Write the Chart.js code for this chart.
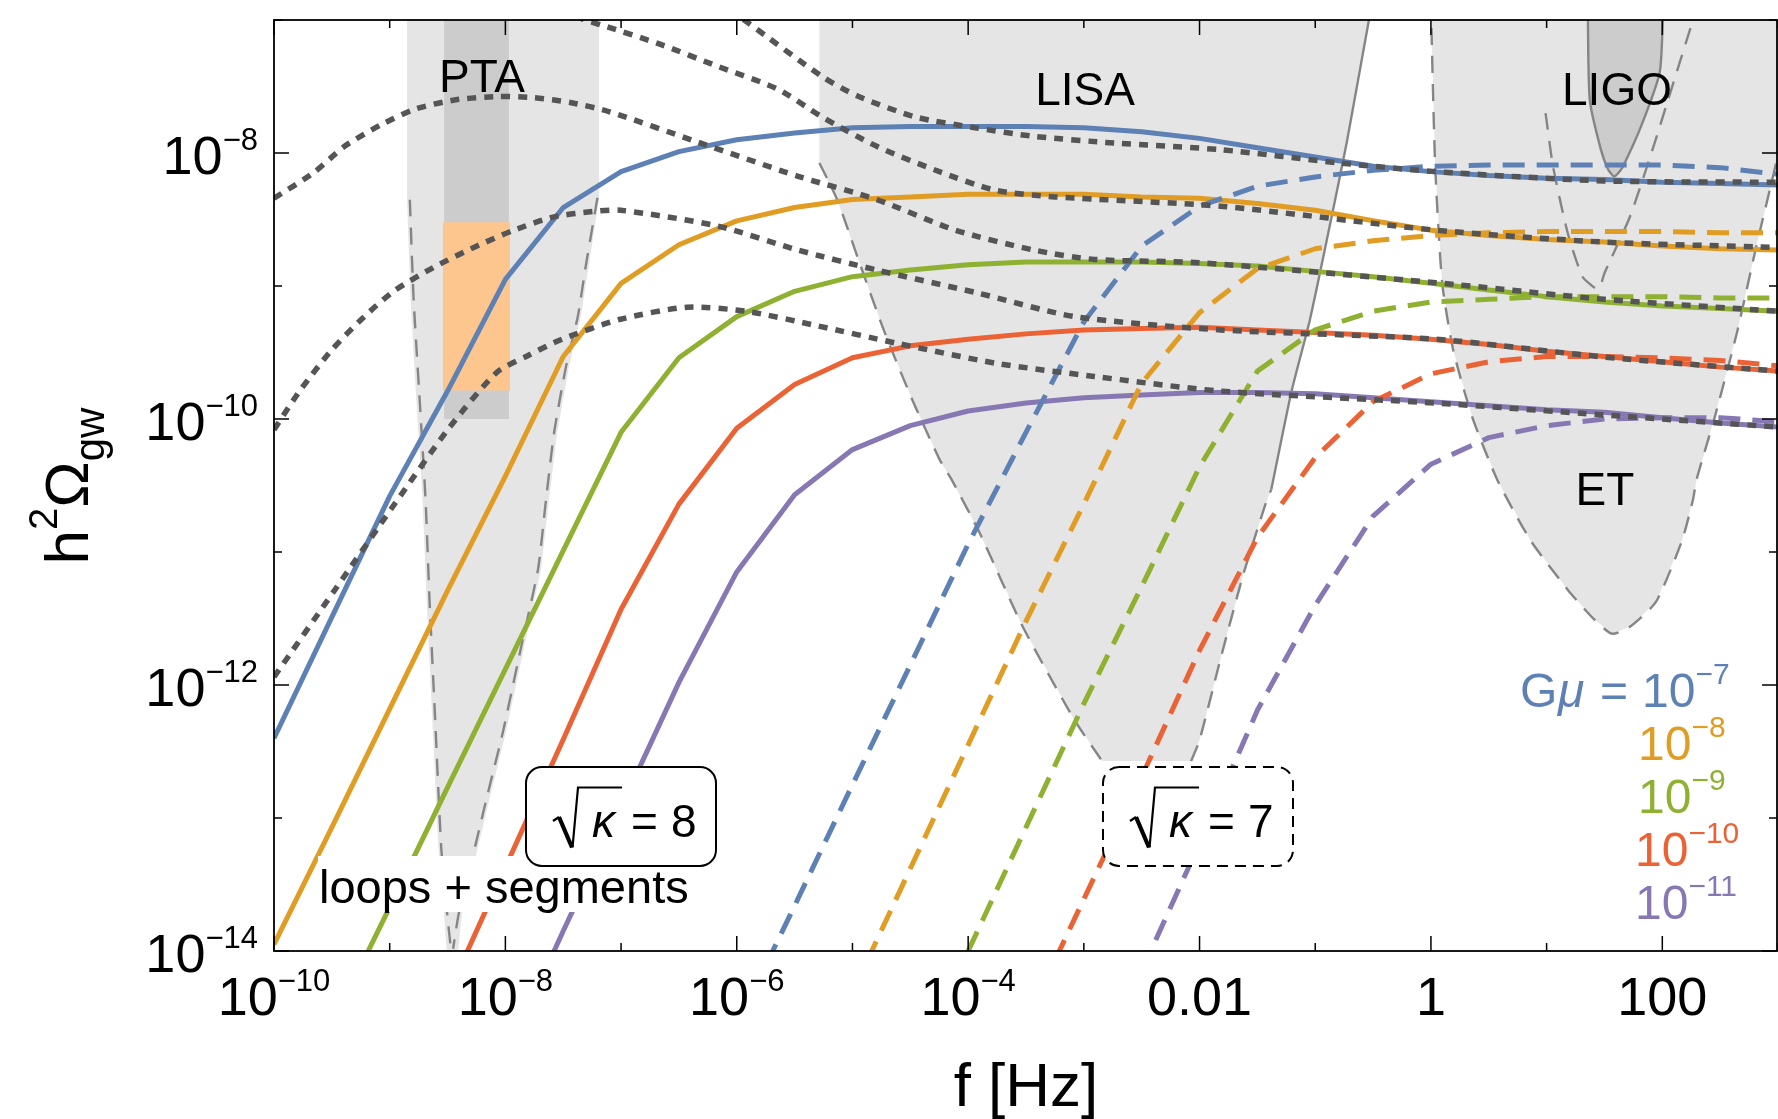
<!DOCTYPE html>
<html>
<head>
<meta charset="utf-8">
<script src="https://cdn.jsdelivr.net/npm/chart.js@4.4.1/dist/chart.umd.min.js"></script>
<style>
html,body{margin:0;padding:0;background:#fff;overflow:hidden}
canvas{display:block}
</style>
</head>
<body>
<canvas id="c" width="1778" height="1119"></canvas>
<script>
// ---------------- DATA (log10 f [Hz], log10 h^2 Omega_gw) ----------------
const fGrid = [-10,-9.5,-9,-8.5,-8,-7.5,-7,-6.5,-6,-5.5,-5,-4.5,-4,-3.5,-3,-2.5,-2,-1.5,-1,-0.5,0,0.5,1,1.5,2,2.5,3];

// sqrt(kappa) = 8, loops + segments (solid); arrays end at log f = 3
const blueSolid   = [-12.40,-11.49,-10.58,-9.79,-8.95,-8.41,-8.14,-7.99,-7.90,-7.85,-7.81,-7.80,-7.80,-7.80,-7.81,-7.84,-7.89,-7.96,-8.03,-8.10,-8.14,-8.17,-8.19,-8.20,-8.22,-8.23,-8.24];
const orangeSolid = [-13.95,-13.07,-12.18,-11.29,-10.43,-9.53,-8.98,-8.69,-8.51,-8.41,-8.35,-8.33,-8.31,-8.31,-8.31,-8.33,-8.34,-8.38,-8.43,-8.51,-8.58,-8.62,-8.65,-8.67,-8.70,-8.72,-8.73];
const greenSolid  = [-14.56,-13.67,-12.77,-11.88,-10.99,-10.10,-9.54,-9.23,-9.04,-8.93,-8.88,-8.84,-8.82,-8.82,-8.82,-8.83,-8.85,-8.89,-8.93,-8.98,-9.03,-9.08,-9.12,-9.15,-9.17,-9.19];
const redSolid    = [-14.33,-13.37,-12.41,-11.43,-10.64,-10.07,-9.74,-9.54,-9.45,-9.40,-9.36,-9.33,-9.32,-9.31,-9.33,-9.35,-9.37,-9.40,-9.44,-9.49,-9.53,-9.57,-9.61,-9.64];
const purpleSolid = [-14.80,-13.85,-12.92,-11.98,-11.15,-10.57,-10.23,-10.05,-9.94,-9.88,-9.84,-9.82,-9.80,-9.80,-9.81,-9.84,-9.87,-9.90,-9.93,-9.95,-9.99,-10.03,-10.06];

// sqrt(kappa) = 7 (dashed)
const blueDashed   = [-14.56,-13.66,-12.75,-11.85,-10.94,-10.10,-9.27,-8.70,-8.40,-8.25,-8.18,-8.13,-8.10,-8.09,-8.09,-8.09,-8.09,-8.11,-8.16];
const orangeDashed = [-14.31,-13.38,-12.45,-11.52,-10.64,-9.73,-9.20,-8.87,-8.72,-8.66,-8.62,-8.60,-8.59,-8.59,-8.59,-8.60,-8.60];
const greenDashed  = [-14.93,-14.00,-13.07,-12.14,-11.26,-10.36,-9.64,-9.33,-9.19,-9.12,-9.10,-9.08,-9.08,-9.08,-9.09,-9.09];
const redDashed    = [-14.53,-13.61,-12.69,-11.74,-10.89,-10.29,-9.87,-9.66,-9.57,-9.53,-9.53,-9.54,-9.56,-9.60];
const purpleDashed = [-14.15,-13.19,-12.19,-11.40,-10.73,-10.34,-10.14,-10.05,-10.00,-9.99,-9.99,-10.02];

// dotted (stable strings)
const dotBlueF = [-6.3,-5.92,-5.27,-4.96,-4.45,-3.94,-3.43,-2.74,-1.82,-0.79,0.04,1.5,3];
const dotBlueO = [-6.77,-7.01,-7.42,-7.57,-7.73,-7.81,-7.875,-7.925,-7.975,-8.075,-8.14,-8.21,-8.22];
const dotOrangeF = [-7.53,-7.31,-7.18,-6.67,-6.16,-5.645,-5.27,-4.79,-4.28,-3.765,-3.25,-1.82,0.04,1.5,3];
const dotOrangeO = [-6.92,-7.0,-7.035,-7.18,-7.35,-7.52,-7.725,-7.95,-8.13,-8.28,-8.33,-8.40,-8.58,-8.67,-8.71];
const dotGreenF = [-10,-9.66,-9.39,-9.08,-8.78,-8.43,-8.06,-7.75,-7.44,-7.10,-6.33,-5.47,-4.79,-4.11,-3.43,-2.91,-2.0,0.04,1.5,3];
const dotGreenO = [-8.34,-8.15,-7.95,-7.79,-7.67,-7.60,-7.575,-7.585,-7.62,-7.69,-7.92,-8.175,-8.35,-8.58,-8.73,-8.80,-8.825,-8.975,-9.10,-9.19];
const dotRedF = [-10,-9.77,-9.50,-9.22,-8.95,-8.61,-8.26,-7.925,-7.58,-7.24,-7.005,-6.16,-5.47,-4.79,-3.93,-3.08,-1.82,0.04,1.5,3];
const dotRedO = [-10.08,-9.78,-9.48,-9.23,-9.03,-8.855,-8.705,-8.58,-8.48,-8.44,-8.43,-8.55,-8.73,-8.88,-9.05,-9.23,-9.33,-9.40,-9.535,-9.64];
const dotPurpleF = [-10,-9.47,-8.95,-8.48,-8.075,-7.82,-7.51,-7.005,-6.43,-5.92,-5.30,-4.62,-3.765,-2.91,-1.82,0.04,1.5,3];
const dotPurpleO = [-11.94,-11.28,-10.63,-10.06,-9.65,-9.53,-9.40,-9.25,-9.16,-9.19,-9.30,-9.43,-9.58,-9.68,-9.79,-9.88,-9.97,-10.06];

// sensitivity regions
const ptaFillF = [-8.85,-8.85,-8.82,-8.77,-8.716,-8.68,-8.63,-8.58,-8.53,-8.50,-8.42,-8.374,-8.236,-8.135,-7.997,-7.83,-7.692,-7.623,-7.553,-7.45,-7.348,-7.28,-7.19,-7.19];
const ptaFillO = [-6.9,-8.35,-9.10,-9.855,-10.607,-11.374,-12.296,-13.216,-13.72,-14.1,-14.1,-13.705,-13.216,-12.847,-12.359,-11.682,-11.131,-10.607,-10.103,-9.605,-9.229,-8.853,-8.336,-6.9];
const ptaLeftF = [-8.826,-8.793,-8.741,-8.69,-8.655,-8.605,-8.555,-8.503,-8.469];
const ptaLeftO = [-8.351,-9.103,-9.855,-10.607,-11.374,-12.296,-13.216,-13.72,-14.0];
const ptaRightF = [-7.204,-7.306,-7.374,-7.476,-7.579,-7.649,-7.718,-7.856,-8.023,-8.161,-8.262,-8.40,-8.452];
const ptaRightO = [-8.336,-8.853,-9.229,-9.605,-10.103,-10.607,-11.131,-11.682,-12.359,-12.847,-13.216,-13.705,-13.983];
const ptaBandF = [-8.53,-8.53,-7.97,-7.97];
const ptaBandO = [-6.9,-10.0,-10.0,-6.9];
const ptaSignalF = [-8.54,-8.54,-7.96,-7.96];
const ptaSignalO = [-8.52,-9.785,-9.785,-8.52];

const lisaFillF = [-5.286,-5.286,-5.132,-4.928,-4.721,-4.483,-4.246,-4.143,-3.901,-3.529,-3.080,-2.842,-2.073,-2.0,-1.81,-1.62,-1.43,-1.38,-1.207,-1.046,-0.887,-0.728,-0.536,-0.50];
const lisaFillO = [-6.85,-8.075,-8.351,-8.853,-9.351,-9.855,-10.306,-10.456,-10.855,-11.56,-12.265,-12.572,-12.572,-12.414,-11.775,-11.163,-10.64,-10.53,-9.80,-9.253,-8.60,-7.923,-7.0,-6.85];
const lisaLeftF = [-5.286,-5.132,-4.928,-4.721,-4.483,-4.246,-4.143,-3.901,-3.529,-3.080,-2.842];
const lisaLeftO = [-8.075,-8.351,-8.853,-9.351,-9.855,-10.306,-10.456,-10.855,-11.56,-12.265,-12.572];
const lisaRightF = [-2.073,-2.0,-1.81,-1.62,-1.43,-1.38];
const lisaRightO = [-12.572,-12.414,-11.775,-11.163,-10.64,-10.53];
const lisaEdgeF = [-1.38,-1.207,-1.046,-0.887,-0.728,-0.536,-0.50];
const lisaEdgeO = [-10.53,-9.80,-9.253,-8.60,-7.923,-7.0,-6.85];

const etF = [0.003,0.003,0.037,0.097,0.192,0.355,0.573,0.863,1.182,1.402,1.564,1.721,1.946,2.17,2.265,2.296,2.455,2.645,2.806,2.991,3.05];
const etO = [-6.85,-7.0,-8.10,-8.975,-9.479,-9.98,-10.456,-10.915,-11.283,-11.499,-11.614,-11.562,-11.374,-10.915,-10.607,-10.456,-9.98,-9.351,-8.727,-8.05,-7.83];
const ligoOuterF = [0.991,1.055,1.182,1.309,1.418,1.46,1.501,1.721,1.915,2.05,2.265,2.32];
const ligoOuterO = [-7.70,-8.10,-8.60,-8.928,-9.015,-9.01,-8.902,-8.477,-7.975,-7.60,-7.0,-6.85];
const ligoInnerF = [1.357,1.357,1.373,1.469,1.53,1.58,1.62,1.661,1.816,1.977,2.004,2.004];
const ligoInnerO = [-6.85,-7.0,-7.60,-7.975,-8.12,-8.176,-8.15,-8.10,-7.80,-7.396,-7.0,-6.85];

// ticks and labels
const xTickExp = [-10,-8,-6,-4,-2,0,2];
const xTickText = [["10","\u221210"],["10","\u22128"],["10","\u22126"],["10","\u22124"],["0.01",""],["1",""],["100",""]];
const yTickExp = [-14,-12,-10,-8];
const yTickText = [["10","\u221214"],["10","\u221212"],["10","\u221210"],["10","\u22128"]];
const legendExp = ["\u22127","\u22128","\u22129","\u221210","\u221211"];

// ---------------- STYLE ----------------
const BLUE='#5E81B5', ORANGE='#E19C24', GREEN='#8FB131', RED='#EB6235', PURPLE='#8778B3';
const DOT='#555555', GREYLINE='#858585', FILL='#e5e5e5', DARK='#cccccc', SIGNAL='#fdc68f';
const FONT='"Liberation Sans", Arial, Helvetica, sans-serif';

function tail(arr){ return fGrid.slice(fGrid.length - arr.length); }
function pts(lf, lo){ return lf.map((f,i)=>({x:Math.pow(10,f), y:Math.pow(10,lo[i])})); }

function fillSet(lf, lo, color, order){
  return {data:pts(lf,lo), showLine:true, fill:'shape', backgroundColor:color, borderColor:'rgba(0,0,0,0)', borderWidth:0, pointRadius:0, tension:0, order, clip:0};
}
function edgeSet(lf, lo, dashed, order){
  return {data:pts(lf,lo), showLine:true, fill:false, borderColor:GREYLINE, borderWidth:2.4, borderDash:dashed?[17,11]:[], borderCapStyle:'butt', pointRadius:0, tension:0.2, order, clip:0};
}
function curve(arr, color, dashed, order){
  return {data:pts(tail(arr),arr), showLine:true, fill:false, borderColor:color, borderWidth:5, borderDash:dashed?[22,12]:[], borderCapStyle:'butt', borderJoinStyle:'round', pointRadius:0, tension:0, order, clip:0};
}
function dotted(lf, lo, order){
  return {data:pts(lf,lo), showLine:true, fill:false, borderColor:DOT, borderWidth:5.5, borderDash:[9,8], borderCapStyle:'butt', pointRadius:0, tension:0.25, order, clip:0};
}

const datasets = [
  fillSet(etF.concat([3.1]), etO.concat([-6.85]), FILL, 100),
  fillSet(ligoInnerF, ligoInnerO, DARK, 99),
  fillSet(lisaFillF, lisaFillO, FILL, 98),
  fillSet(ptaFillF, ptaFillO, FILL, 97),
  fillSet(ptaBandF, ptaBandO, DARK, 96),
  fillSet(ptaSignalF, ptaSignalO, SIGNAL, 95),
  edgeSet(ptaLeftF, ptaLeftO, true, 90),
  edgeSet(ptaRightF, ptaRightO, true, 90),
  edgeSet(lisaLeftF, lisaLeftO, true, 90),
  edgeSet(lisaRightF, lisaRightO, true, 90),
  edgeSet(lisaEdgeF, lisaEdgeO, false, 90),
  edgeSet(etF, etO, true, 90),
  edgeSet(ligoOuterF, ligoOuterO, true, 90),
  edgeSet(ligoInnerF, ligoInnerO, false, 90),
  curve(blueSolid, BLUE, false, 30),
  curve(orangeSolid, ORANGE, false, 30),
  curve(greenSolid, GREEN, false, 30),
  curve(redSolid, RED, false, 30),
  curve(purpleSolid, PURPLE, false, 30),
  curve(blueDashed, BLUE, true, 25),
  curve(orangeDashed, ORANGE, true, 25),
  curve(greenDashed, GREEN, true, 25),
  curve(redDashed, RED, true, 25),
  curve(purpleDashed, PURPLE, true, 25),
  dotted(dotBlueF, dotBlueO, 20),
  dotted(dotOrangeF, dotOrangeO, 20),
  dotted(dotGreenF, dotGreenO, 20),
  dotted(dotRedF, dotRedO, 20),
  dotted(dotPurpleF, dotPurpleO, 20)
];

// ---------------- text helpers ----------------
function supText(ctx, x, y, base, sup, bs, ss, raise, align, color){
  ctx.font = bs+'px '+FONT; const wb = ctx.measureText(base).width;
  ctx.font = ss+'px '+FONT; const ws = sup ? ctx.measureText(sup).width : 0;
  let x0 = x;
  if (align==='center') x0 = x-(wb+ws)/2; else if (align==='right') x0 = x-wb-ws;
  ctx.fillStyle = color; ctx.textAlign='left'; ctx.textBaseline='alphabetic';
  ctx.font = bs+'px '+FONT; ctx.fillText(base, x0, y);
  if (sup){ ctx.font = ss+'px '+FONT; ctx.fillText(sup, x0+wb, y-raise); }
}
function roundRect(ctx, x, y, w, h, r){
  ctx.beginPath();
  ctx.moveTo(x+r,y); ctx.lineTo(x+w-r,y); ctx.arcTo(x+w,y,x+w,y+r,r);
  ctx.lineTo(x+w,y+h-r); ctx.arcTo(x+w,y+h,x+w-r,y+h,r);
  ctx.lineTo(x+r,y+h); ctx.arcTo(x,y+h,x,y+h-r,r);
  ctx.lineTo(x,y+r); ctx.arcTo(x,y,x+r,y,r); ctx.closePath();
}
function radical(ctx, s, yHook, yBot, yTop, overEnd){
  ctx.save(); ctx.strokeStyle='#000'; ctx.lineCap='butt'; ctx.lineJoin='miter';
  ctx.beginPath(); ctx.lineWidth=2.2; ctx.moveTo(s,yHook+4); ctx.lineTo(s+6,yHook); ctx.stroke();
  ctx.beginPath(); ctx.lineWidth=4.2; ctx.moveTo(s+6,yHook); ctx.lineTo(s+19,yBot); ctx.stroke();
  ctx.beginPath(); ctx.lineWidth=2.2; ctx.moveTo(s+19.5,yBot); ctx.lineTo(s+25,yTop); ctx.lineTo(overEnd,yTop); ctx.stroke();
  ctx.restore();
}
function kappaBox(ctx, bx, num, dashed){
  ctx.save();
  roundRect(ctx, bx, 767, 190, 99, 16);
  ctx.fillStyle='#fff'; ctx.fill();
  ctx.strokeStyle='#000'; ctx.lineWidth=2; ctx.setLineDash(dashed?[11,7]:[]); ctx.stroke();
  ctx.setLineDash([]);
  radical(ctx, bx+27, 817, 847.5, 787.5, bx+96);
  ctx.fillStyle='#000'; ctx.textAlign='left'; ctx.textBaseline='alphabetic';
  ctx.font='italic 46px '+FONT; ctx.fillText('\u03BA', bx+66, 837);
  ctx.font='46px '+FONT; ctx.fillText('=', bx+105, 837); ctx.fillText(num, bx+145, 837);
  ctx.restore();
}

const overlay = {
  id:'overlay',
  afterDatasetsDraw(chart){
    const ctx = chart.ctx, xs = chart.scales.x, ys = chart.scales.y, a = chart.chartArea;
    ctx.save();
    // region labels
    ctx.fillStyle='#000'; ctx.textAlign='center'; ctx.textBaseline='alphabetic';
    ctx.font='46px '+FONT;
    ctx.fillText('PTA', 482, 92);
    ctx.fillText('LISA', 1085, 105);
    ctx.fillText('LIGO', 1617, 105);
    ctx.fillText('ET', 1605, 505);
    // loops + segments label
    ctx.fillStyle='#fff'; ctx.fillRect(318, 856, 376, 56);
    ctx.fillStyle='#000'; ctx.textAlign='left'; ctx.font='47px '+FONT;
    ctx.fillText('loops + segments', 319, 903);
    // kappa boxes
    kappaBox(ctx, 526, '8', false);
    kappaBox(ctx, 1103, '7', true);
    // legend
    const cols=[BLUE,ORANGE,GREEN,RED,PURPLE];
    const lx=[1642,1638,1638,1635,1635];
    ctx.textAlign='left';
    ctx.fillStyle=BLUE; ctx.font='48px '+FONT; ctx.fillText('G',1520,707);
    ctx.font='italic 48px '+FONT; ctx.fillText('\u03BC',1558,707);
    ctx.font='48px '+FONT; ctx.fillText('=',1600,707);
    for(let i=0;i<5;i++) supText(ctx, lx[i], 707+53*i, '10', legendExp[i], 48, 30, 23, 'left', cols[i]);
    // frame
    ctx.strokeStyle='#000'; ctx.lineWidth=1.8; ctx.setLineDash([]);
    ctx.strokeRect(a.left, a.top, a.right-a.left-1, a.bottom-a.top);
    // ticks
    ctx.lineWidth=1.5; ctx.beginPath();
    for(let d=-10; d<=3; d++){
      const X = xs.getPixelForValue(Math.pow(10,d)); const L = (d%2===0)?15:8;
      ctx.moveTo(X,a.bottom); ctx.lineTo(X,a.bottom-L);
      ctx.moveTo(X,a.top); ctx.lineTo(X,a.top+L);
    }
    for(let d=-14; d<=-7; d++){
      const Y = ys.getPixelForValue(Math.pow(10,d)); const L = (d%2===0)?15:8;
      ctx.moveTo(a.left,Y); ctx.lineTo(a.left+L,Y);
      ctx.moveTo(a.right-1,Y); ctx.lineTo(a.right-1-L,Y);
    }
    ctx.stroke();
    // tick labels
    xTickExp.forEach((e,i)=>{
      const X = xs.getPixelForValue(Math.pow(10,e));
      supText(ctx, X, 1015, xTickText[i][0], xTickText[i][1], 54, 31, 24, 'center', '#000');
    });
    yTickExp.forEach((e,i)=>{
      const Y = ys.getPixelForValue(Math.pow(10,e));
      supText(ctx, 258, Y+20.5, yTickText[i][0], yTickText[i][1], 54, 31, 24, 'right', '#000');
    });
    // axis titles
    ctx.fillStyle='#000'; ctx.textAlign='center'; ctx.font='62px '+FONT;
    ctx.fillText('f [Hz]', 1026, 1106);
    ctx.save();
    ctx.translate(88, 486); ctx.rotate(-Math.PI/2);
    const parts=[['h',62,0],['2',40,-31],['\u03A9',62,0],['gw',42,16]];
    let tot=0; parts.forEach(p=>{ctx.font=p[1]+'px '+FONT; tot+=ctx.measureText(p[0]).width;});
    let px=-tot/2; ctx.textAlign='left';
    parts.forEach(p=>{ctx.font=p[1]+'px '+FONT; ctx.fillText(p[0],px,p[2]); px+=ctx.measureText(p[0]).width;});
    ctx.restore();
    ctx.restore();
  }
};

new Chart(document.getElementById('c'), {
  type:'scatter',
  data:{datasets},
  options:{
    responsive:false, animation:false, events:[],
    layout:{padding:{left:274,right:0,top:20,bottom:168}},
    plugins:{legend:{display:false}, tooltip:{enabled:false}},
    scales:{
      x:{type:'logarithmic', min:1e-10, max:1e3, display:false},
      y:{type:'logarithmic', min:1e-14, max:1e-7, display:false}
    }
  },
  plugins:[overlay]
});
</script>
</body>
</html>
